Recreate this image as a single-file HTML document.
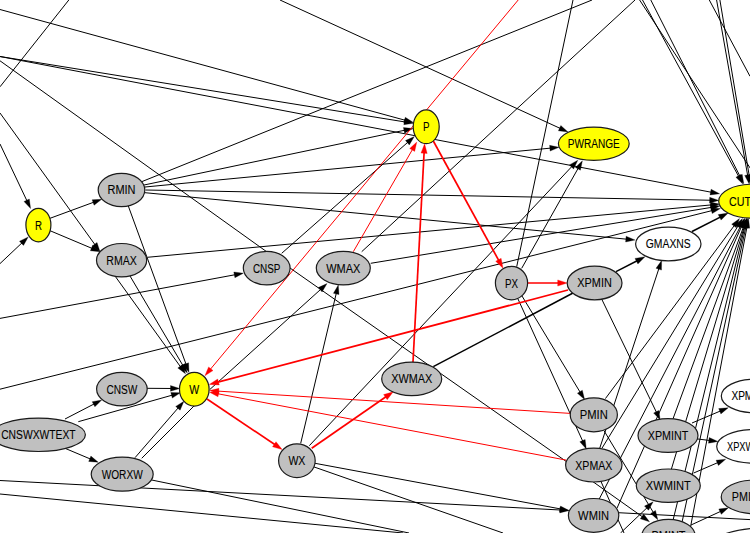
<!DOCTYPE html>
<html><head><meta charset="utf-8"><title>Graph</title>
<style>html,body{margin:0;padding:0;background:#fff;overflow:hidden}svg{display:block}text{font-family:"Liberation Sans",sans-serif;font-size:12.5px;fill:#000;stroke:#000;stroke-width:0.1px}</style></head><body>
<svg width="750" height="533" viewBox="0 0 750 533">
<rect width="750" height="533" fill="#fff"/>
<g stroke-linecap="butt">
<line x1="68.8" y1="0.0" x2="0.0" y2="86.8" stroke="#000000" stroke-width="1.0"/>
<line x1="0.0" y1="9.5" x2="408.6" y2="121.2" stroke="#000000" stroke-width="1.0"/>
<polygon points="413.4,122.5 403.8,122.9 405.3,117.3" fill="#000000" stroke="#000000" stroke-width="0.3"/>
<line x1="0.0" y1="56.5" x2="408.4" y2="122.5" stroke="#000000" stroke-width="1.0"/>
<polygon points="413.3,123.3 403.8,124.7 404.7,119.0" fill="#000000" stroke="#000000" stroke-width="0.3"/>
<line x1="0.0" y1="56.5" x2="714.7" y2="192.9" stroke="#000000" stroke-width="1.0"/>
<polygon points="719.6,193.8 710.0,194.9 711.1,189.2" fill="#000000" stroke="#000000" stroke-width="0.3"/>
<line x1="0.0" y1="60.8" x2="266.5" y2="251.6" stroke="#000000" stroke-width="1.0"/>
<line x1="0.0" y1="113.0" x2="97.1" y2="247.6" stroke="#000000" stroke-width="1.0"/>
<polygon points="100.0,251.7 92.3,245.9 97.0,242.5" fill="#000000" stroke="#000000" stroke-width="0.3"/>
<line x1="0.0" y1="144.0" x2="28.5" y2="204.1" stroke="#000000" stroke-width="1.0"/>
<polygon points="30.6,208.6 24.0,201.5 29.3,199.0" fill="#000000" stroke="#000000" stroke-width="0.3"/>
<line x1="0.0" y1="263.6" x2="24.6" y2="240.4" stroke="#000000" stroke-width="1.0"/>
<polygon points="28.2,237.0 23.5,245.4 19.5,241.2" fill="#000000" stroke="#000000" stroke-width="0.3"/>
<line x1="50.0" y1="218.3" x2="97.0" y2="201.0" stroke="#000000" stroke-width="1.0"/>
<polygon points="101.7,199.3 94.1,205.2 92.1,199.8" fill="#000000" stroke="#000000" stroke-width="0.3"/>
<line x1="50.0" y1="230.7" x2="95.4" y2="249.8" stroke="#000000" stroke-width="1.0"/>
<polygon points="100.0,251.7 90.4,250.8 92.6,245.5" fill="#000000" stroke="#000000" stroke-width="0.3"/>
<line x1="141.7" y1="181.7" x2="592.0" y2="0.0" stroke="#000000" stroke-width="1.0"/>
<line x1="144.0" y1="185.0" x2="408.1" y2="129.5" stroke="#000000" stroke-width="1.0"/>
<polygon points="413.0,128.5 404.6,133.2 403.4,127.6" fill="#000000" stroke="#000000" stroke-width="0.3"/>
<line x1="145.0" y1="187.0" x2="554.0" y2="147.8" stroke="#000000" stroke-width="1.0"/>
<polygon points="559.0,147.3 550.1,151.1 549.6,145.3" fill="#000000" stroke="#000000" stroke-width="0.3"/>
<line x1="145.5" y1="190.0" x2="713.8" y2="200.3" stroke="#000000" stroke-width="1.0"/>
<polygon points="718.8,200.4 709.5,203.1 709.7,197.3" fill="#000000" stroke="#000000" stroke-width="0.3"/>
<line x1="145.0" y1="192.7" x2="630.0" y2="239.5" stroke="#000000" stroke-width="1.0"/>
<polygon points="635.0,240.0 625.6,242.0 626.1,236.2" fill="#000000" stroke="#000000" stroke-width="0.3"/>
<line x1="128.3" y1="206.0" x2="187.3" y2="367.7" stroke="#000000" stroke-width="1.0"/>
<polygon points="189.0,372.4 183.1,364.8 188.6,362.8" fill="#000000" stroke="#000000" stroke-width="0.3"/>
<line x1="147.3" y1="257.3" x2="714.6" y2="204.6" stroke="#000000" stroke-width="1.0"/>
<polygon points="719.6,204.1 710.7,207.8 710.2,202.1" fill="#000000" stroke="#000000" stroke-width="0.3"/>
<line x1="115.0" y1="276.0" x2="182.6" y2="369.7" stroke="#000000" stroke-width="1.0"/>
<polygon points="185.5,373.8 177.8,368.0 182.5,364.6" fill="#000000" stroke="#000000" stroke-width="0.3"/>
<line x1="130.0" y1="276.0" x2="184.8" y2="368.7" stroke="#000000" stroke-width="1.0"/>
<polygon points="187.3,373.0 180.1,366.6 185.1,363.6" fill="#000000" stroke="#000000" stroke-width="0.3"/>
<line x1="0.0" y1="318.4" x2="238.5" y2="274.1" stroke="#000000" stroke-width="1.0"/>
<polygon points="243.4,273.2 234.9,277.7 233.8,272.0" fill="#000000" stroke="#000000" stroke-width="0.3"/>
<line x1="281.7" y1="253.3" x2="410.5" y2="139.9" stroke="#000000" stroke-width="1.0"/>
<polygon points="414.3,136.6 409.3,144.9 405.5,140.5" fill="#000000" stroke="#000000" stroke-width="0.3"/>
<line x1="361.7" y1="251.7" x2="635.0" y2="0.0" stroke="#000000" stroke-width="1.0"/>
<line x1="370.7" y1="263.3" x2="714.9" y2="206.8" stroke="#000000" stroke-width="1.0"/>
<polygon points="719.8,206.0 711.2,210.4 710.3,204.6" fill="#000000" stroke="#000000" stroke-width="0.3"/>
<line x1="0.0" y1="389.2" x2="715.6" y2="209.7" stroke="#000000" stroke-width="1.0"/>
<polygon points="720.4,208.5 712.2,213.6 710.8,207.9" fill="#000000" stroke="#000000" stroke-width="0.3"/>
<line x1="290.0" y1="268.0" x2="567.0" y2="462.0" stroke="#000000" stroke-width="1.0"/>
<line x1="141.7" y1="458.3" x2="195.0" y2="405.0" stroke="#000000" stroke-width="1.0"/>
<line x1="209.8" y1="389.5" x2="323.3" y2="287.0" stroke="#000000" stroke-width="1.0"/>
<polygon points="327.0,283.6 322.1,291.9 318.2,287.6" fill="#000000" stroke="#000000" stroke-width="0.3"/>
<line x1="300.7" y1="443.3" x2="337.1" y2="289.9" stroke="#000000" stroke-width="1.0"/>
<polygon points="338.3,285.0 339.0,294.6 333.4,293.3" fill="#000000" stroke="#000000" stroke-width="0.3"/>
<line x1="309.3" y1="445.7" x2="574.4" y2="163.8" stroke="#000000" stroke-width="1.0"/>
<polygon points="577.8,160.2 573.6,168.9 569.4,164.9" fill="#000000" stroke="#000000" stroke-width="0.3"/>
<line x1="521.7" y1="268.3" x2="579.9" y2="165.2" stroke="#000000" stroke-width="1.0"/>
<polygon points="582.4,160.8 580.4,170.2 575.4,167.4" fill="#000000" stroke="#000000" stroke-width="0.3"/>
<line x1="516.7" y1="266.7" x2="573.0" y2="0.0" stroke="#000000" stroke-width="1.0"/>
<line x1="522.0" y1="296.0" x2="582.0" y2="395.3" stroke="#000000" stroke-width="1.0"/>
<polygon points="584.6,399.6 577.4,393.2 582.3,390.2" fill="#000000" stroke="#000000" stroke-width="0.3"/>
<line x1="518.0" y1="299.0" x2="584.2" y2="444.4" stroke="#000000" stroke-width="1.0"/>
<polygon points="586.3,449.0 579.8,441.8 585.1,439.4" fill="#000000" stroke="#000000" stroke-width="0.3"/>
<line x1="601.5" y1="298.7" x2="658.0" y2="415.5" stroke="#000000" stroke-width="1.0"/>
<polygon points="660.2,420.0 653.6,413.0 658.8,410.5" fill="#000000" stroke="#000000" stroke-width="0.3"/>
<line x1="616.0" y1="271.7" x2="640.6" y2="259.0" stroke="#000000" stroke-width="1.5"/>
<polygon points="645.0,256.7 637.9,263.9 635.0,258.4" fill="#000000" stroke="#000000" stroke-width="0.3"/>
<line x1="433.3" y1="366.7" x2="573.0" y2="293.0" stroke="#000000" stroke-width="1.5"/>
<line x1="599.8" y1="448.0" x2="660.0" y2="265.2" stroke="#000000" stroke-width="1.0"/>
<polygon points="661.6,260.5 661.5,270.1 656.0,268.3" fill="#000000" stroke="#000000" stroke-width="0.3"/>
<line x1="605.4" y1="398.6" x2="736.5" y2="222.6" stroke="#000000" stroke-width="1.0"/>
<polygon points="739.5,218.6 736.3,227.7 731.7,224.2" fill="#000000" stroke="#000000" stroke-width="0.3"/>
<line x1="602.1" y1="448.0" x2="739.9" y2="222.9" stroke="#000000" stroke-width="1.0"/>
<polygon points="742.5,218.6 740.2,228.0 735.2,224.9" fill="#000000" stroke="#000000" stroke-width="0.3"/>
<line x1="598.7" y1="500.0" x2="742.2" y2="223.0" stroke="#000000" stroke-width="1.0"/>
<polygon points="744.5,218.6 742.8,228.1 737.7,225.4" fill="#000000" stroke="#000000" stroke-width="0.3"/>
<line x1="616.9" y1="508.4" x2="743.0" y2="223.2" stroke="#000000" stroke-width="1.0"/>
<polygon points="745.0,218.6 743.9,228.2 738.6,225.8" fill="#000000" stroke="#000000" stroke-width="0.3"/>
<line x1="666.7" y1="436.0" x2="744.8" y2="223.3" stroke="#000000" stroke-width="1.0"/>
<polygon points="746.5,218.6 746.1,228.2 740.6,226.2" fill="#000000" stroke="#000000" stroke-width="0.3"/>
<line x1="666.3" y1="486.0" x2="745.3" y2="223.4" stroke="#000000" stroke-width="1.0"/>
<polygon points="746.8,218.6 746.9,228.2 741.3,226.6" fill="#000000" stroke="#000000" stroke-width="0.3"/>
<line x1="669.9" y1="533.0" x2="745.7" y2="223.5" stroke="#000000" stroke-width="1.0"/>
<polygon points="746.9,218.6 747.5,228.2 741.9,226.8" fill="#000000" stroke="#000000" stroke-width="0.3"/>
<line x1="679.7" y1="533.0" x2="746.6" y2="223.5" stroke="#000000" stroke-width="1.0"/>
<polygon points="747.6,218.6 748.5,228.2 742.9,227.0" fill="#000000" stroke="#000000" stroke-width="0.3"/>
<line x1="689.4" y1="533.0" x2="747.6" y2="223.5" stroke="#000000" stroke-width="1.0"/>
<polygon points="748.5,218.6 749.7,228.2 744.0,227.1" fill="#000000" stroke="#000000" stroke-width="0.3"/>
<line x1="280.0" y1="0.0" x2="563.5" y2="129.9" stroke="#000000" stroke-width="1.0"/>
<polygon points="568.0,132.0 558.4,130.8 560.8,125.5" fill="#000000" stroke="#000000" stroke-width="0.3"/>
<line x1="642.5" y1="0.0" x2="740.4" y2="179.6" stroke="#000000" stroke-width="1.0"/>
<polygon points="742.8,184.0 735.9,177.3 740.9,174.5" fill="#000000" stroke="#000000" stroke-width="0.3"/>
<line x1="650.8" y1="0.0" x2="741.5" y2="179.3" stroke="#000000" stroke-width="1.0"/>
<polygon points="743.8,183.8 737.1,176.9 742.2,174.3" fill="#000000" stroke="#000000" stroke-width="0.3"/>
<line x1="639.6" y1="0.0" x2="751.0" y2="169.3" stroke="#000000" stroke-width="1.0"/>
<line x1="709.3" y1="0.0" x2="750.0" y2="76.3" stroke="#000000" stroke-width="1.0"/>
<line x1="716.6" y1="0.0" x2="748.3" y2="179.1" stroke="#000000" stroke-width="1.0"/>
<polygon points="749.2,184.0 744.7,175.4 750.5,174.4" fill="#000000" stroke="#000000" stroke-width="0.3"/>
<line x1="719.9" y1="0.0" x2="749.8" y2="179.1" stroke="#000000" stroke-width="1.0"/>
<polygon points="750.6,184.0 746.2,175.4 751.9,174.4" fill="#000000" stroke="#000000" stroke-width="0.3"/>
<line x1="692.0" y1="231.5" x2="723.7" y2="215.3" stroke="#000000" stroke-width="1.5"/>
<polygon points="728.2,213.0 721.1,220.1 718.2,214.6" fill="#000000" stroke="#000000" stroke-width="0.3"/>
<line x1="692.0" y1="423.0" x2="723.7" y2="409.6" stroke="#000000" stroke-width="1.0"/>
<polygon points="728.3,407.7 720.9,413.9 718.7,408.6" fill="#000000" stroke="#000000" stroke-width="0.3"/>
<line x1="697.0" y1="438.9" x2="713.0" y2="440.9" stroke="#000000" stroke-width="1.0"/>
<polygon points="718.0,441.5 708.5,443.2 709.2,437.5" fill="#000000" stroke="#000000" stroke-width="0.3"/>
<line x1="693.7" y1="473.0" x2="721.1" y2="461.2" stroke="#000000" stroke-width="1.0"/>
<polygon points="725.7,459.2 718.4,465.5 716.1,460.2" fill="#000000" stroke="#000000" stroke-width="0.3"/>
<line x1="691.0" y1="525.0" x2="723.9" y2="509.9" stroke="#000000" stroke-width="1.0"/>
<polygon points="728.4,507.8 721.3,514.3 718.8,509.0" fill="#000000" stroke="#000000" stroke-width="0.3"/>
<line x1="618.3" y1="512.7" x2="750.0" y2="519.6" stroke="#000000" stroke-width="1.0"/>
<line x1="586.0" y1="448.0" x2="624.0" y2="533.0" stroke="#000000" stroke-width="1.0"/>
<line x1="604.0" y1="430.7" x2="655.2" y2="515.5" stroke="#000000" stroke-width="1.0"/>
<polygon points="657.8,519.8 650.6,513.4 655.5,510.4" fill="#000000" stroke="#000000" stroke-width="0.3"/>
<line x1="592.8" y1="481.6" x2="645.4" y2="518.9" stroke="#000000" stroke-width="1.0"/>
<polygon points="649.5,521.8 640.3,518.8 643.7,514.1" fill="#000000" stroke="#000000" stroke-width="0.3"/>
<line x1="620.5" y1="533.0" x2="649.6" y2="505.3" stroke="#000000" stroke-width="1.0"/>
<polygon points="653.2,501.8 648.5,510.2 644.5,506.1" fill="#000000" stroke="#000000" stroke-width="0.3"/>
<line x1="65.0" y1="419.0" x2="97.3" y2="402.3" stroke="#000000" stroke-width="1.0"/>
<polygon points="101.7,400.0 94.9,406.8 92.2,401.7" fill="#000000" stroke="#000000" stroke-width="0.3"/>
<line x1="78.3" y1="421.7" x2="175.6" y2="394.2" stroke="#000000" stroke-width="1.0"/>
<polygon points="180.4,392.8 172.3,398.1 170.8,392.5" fill="#000000" stroke="#000000" stroke-width="0.3"/>
<line x1="65.0" y1="448.3" x2="93.7" y2="460.4" stroke="#000000" stroke-width="1.0"/>
<polygon points="98.3,462.3 88.7,461.4 90.9,456.1" fill="#000000" stroke="#000000" stroke-width="0.3"/>
<line x1="146.7" y1="388.3" x2="174.7" y2="388.5" stroke="#000000" stroke-width="1.0"/>
<polygon points="179.7,388.5 170.5,391.3 170.5,385.5" fill="#000000" stroke="#000000" stroke-width="0.3"/>
<line x1="135.0" y1="457.7" x2="180.6" y2="405.1" stroke="#000000" stroke-width="1.0"/>
<polygon points="183.9,401.3 180.1,410.2 175.7,406.4" fill="#000000" stroke="#000000" stroke-width="0.3"/>
<line x1="151.7" y1="480.0" x2="409.0" y2="533.0" stroke="#000000" stroke-width="1.0"/>
<line x1="0.0" y1="480.5" x2="564.0" y2="510.2" stroke="#000000" stroke-width="1.0"/>
<polygon points="569.0,510.5 559.7,512.9 560.0,507.1" fill="#000000" stroke="#000000" stroke-width="0.3"/>
<line x1="0.0" y1="494.0" x2="403.0" y2="533.0" stroke="#000000" stroke-width="1.0"/>
<line x1="315.0" y1="463.3" x2="564.1" y2="509.6" stroke="#000000" stroke-width="1.0"/>
<polygon points="569.0,510.5 559.4,511.7 560.5,506.0" fill="#000000" stroke="#000000" stroke-width="0.3"/>
<line x1="313.3" y1="466.7" x2="503.0" y2="533.0" stroke="#000000" stroke-width="1.0"/>
<line x1="518.2" y1="0.0" x2="208.1" y2="372.0" stroke="#ff0000" stroke-width="1.0"/>
<polygon points="204.9,375.8 208.6,366.9 213.0,370.6" fill="#ff0000" stroke="#ff0000" stroke-width="0.3"/>
<line x1="353.3" y1="251.7" x2="414.3" y2="146.3" stroke="#ff0000" stroke-width="1.0"/>
<polygon points="416.8,142.0 414.7,151.4 409.7,148.5" fill="#ff0000" stroke="#ff0000" stroke-width="0.3"/>
<line x1="413.0" y1="362.0" x2="424.3" y2="148.7" stroke="#ff0000" stroke-width="1.7"/>
<polygon points="424.6,143.7 427.2,153.5 421.0,153.1" fill="#ff0000" stroke="#ff0000" stroke-width="0.3"/>
<line x1="433.3" y1="141.0" x2="500.6" y2="263.8" stroke="#ff0000" stroke-width="1.7"/>
<polygon points="503.0,268.2 495.7,261.3 501.1,258.3" fill="#ff0000" stroke="#ff0000" stroke-width="0.3"/>
<line x1="527.6" y1="283.0" x2="562.3" y2="283.0" stroke="#ff0000" stroke-width="1.7"/>
<polygon points="567.3,283.0 557.7,286.1 557.7,279.9" fill="#ff0000" stroke="#ff0000" stroke-width="0.3"/>
<line x1="568.0" y1="290.0" x2="214.0" y2="383.1" stroke="#ff0000" stroke-width="1.7"/>
<polygon points="209.2,384.4 217.7,379.0 219.3,385.0" fill="#ff0000" stroke="#ff0000" stroke-width="0.3"/>
<line x1="207.0" y1="399.0" x2="278.1" y2="446.8" stroke="#ff0000" stroke-width="1.7"/>
<polygon points="282.2,449.6 272.5,446.8 276.0,441.7" fill="#ff0000" stroke="#ff0000" stroke-width="0.3"/>
<line x1="311.7" y1="448.3" x2="389.2" y2="394.5" stroke="#ff0000" stroke-width="1.7"/>
<polygon points="393.3,391.7 387.2,399.7 383.6,394.6" fill="#ff0000" stroke="#ff0000" stroke-width="0.3"/>
<line x1="570.3" y1="413.4" x2="214.6" y2="390.9" stroke="#ff0000" stroke-width="1.0"/>
<polygon points="209.6,390.6 219.0,388.3 218.6,394.1" fill="#ff0000" stroke="#ff0000" stroke-width="0.3"/>
<line x1="566.6" y1="460.2" x2="214.4" y2="393.1" stroke="#ff0000" stroke-width="1.0"/>
<polygon points="209.5,392.2 219.1,391.1 218.0,396.8" fill="#ff0000" stroke="#ff0000" stroke-width="0.3"/>
</g>
<ellipse cx="38.4" cy="225.1" rx="12.5" ry="16.8" fill="#ffff00" stroke="#1a1a1a" stroke-width="1.2"/>
<text x="38.4" y="229.5" text-anchor="middle" textLength="7" lengthAdjust="spacingAndGlyphs">R</text>
<ellipse cx="121.5" cy="190.0" rx="23.3" ry="16.7" fill="#c0c0c0" stroke="#1a1a1a" stroke-width="1.2"/>
<text x="121.5" y="194.4" text-anchor="middle" textLength="28" lengthAdjust="spacingAndGlyphs">RMIN</text>
<ellipse cx="121.6" cy="260.2" rx="25.1" ry="16.7" fill="#c0c0c0" stroke="#1a1a1a" stroke-width="1.2"/>
<text x="121.6" y="264.6" text-anchor="middle" textLength="30.5" lengthAdjust="spacingAndGlyphs">RMAX</text>
<ellipse cx="266.7" cy="268.1" rx="23.4" ry="16.8" fill="#c0c0c0" stroke="#1a1a1a" stroke-width="1.2"/>
<text x="266.7" y="272.5" text-anchor="middle" textLength="27.5" lengthAdjust="spacingAndGlyphs">CNSP</text>
<ellipse cx="343.3" cy="268.1" rx="27.0" ry="16.8" fill="#c0c0c0" stroke="#1a1a1a" stroke-width="1.2"/>
<text x="343.3" y="272.5" text-anchor="middle" textLength="34" lengthAdjust="spacingAndGlyphs">WMAX</text>
<ellipse cx="426.2" cy="126.8" rx="13.0" ry="16.9" fill="#ffff00" stroke="#1a1a1a" stroke-width="1.2"/>
<text x="426.2" y="131.2" text-anchor="middle" textLength="6.5" lengthAdjust="spacingAndGlyphs">P</text>
<ellipse cx="593.8" cy="143.8" rx="35.4" ry="16.6" fill="#ffff00" stroke="#1a1a1a" stroke-width="1.2"/>
<text x="593.8" y="148.2" text-anchor="middle" textLength="52" lengthAdjust="spacingAndGlyphs">PWRANGE</text>
<ellipse cx="752.0" cy="201.2" rx="33.3" ry="17.0" fill="#ffff00" stroke="#1a1a1a" stroke-width="1.2"/>
<text x="729" y="205.6" textLength="22" lengthAdjust="spacingAndGlyphs">CUT</text>
<ellipse cx="668.3" cy="244.0" rx="32.7" ry="16.8" fill="#ffffff" stroke="#1a1a1a" stroke-width="1.2"/>
<text x="668.3" y="248.4" text-anchor="middle" textLength="45" lengthAdjust="spacingAndGlyphs">GMAXNS</text>
<ellipse cx="511.5" cy="283.1" rx="16.1" ry="16.7" fill="#c0c0c0" stroke="#1a1a1a" stroke-width="1.2"/>
<text x="511.5" y="287.5" text-anchor="middle" textLength="13" lengthAdjust="spacingAndGlyphs">PX</text>
<ellipse cx="594.6" cy="283.0" rx="27.4" ry="16.8" fill="#c0c0c0" stroke="#1a1a1a" stroke-width="1.2"/>
<text x="594.6" y="287.4" text-anchor="middle" textLength="34.5" lengthAdjust="spacingAndGlyphs">XPMIN</text>
<ellipse cx="194.3" cy="389.2" rx="14.8" ry="16.9" fill="#ffff00" stroke="#1a1a1a" stroke-width="1.2"/>
<text x="194.3" y="393.6" text-anchor="middle" textLength="10" lengthAdjust="spacingAndGlyphs">W</text>
<ellipse cx="121.9" cy="389.1" rx="25.3" ry="16.8" fill="#c0c0c0" stroke="#1a1a1a" stroke-width="1.2"/>
<text x="121.9" y="393.5" text-anchor="middle" textLength="31" lengthAdjust="spacingAndGlyphs">CNSW</text>
<ellipse cx="38.4" cy="434.8" rx="47.0" ry="16.7" fill="#c0c0c0" stroke="#1a1a1a" stroke-width="1.2"/>
<text x="38.4" y="439.2" text-anchor="middle" textLength="74.5" lengthAdjust="spacingAndGlyphs">CNSWXWTEXT</text>
<ellipse cx="122.2" cy="474.2" rx="31.0" ry="17.0" fill="#c0c0c0" stroke="#1a1a1a" stroke-width="1.2"/>
<text x="122.2" y="478.6" text-anchor="middle" textLength="41" lengthAdjust="spacingAndGlyphs">WORXW</text>
<ellipse cx="296.9" cy="460.7" rx="18.3" ry="16.9" fill="#c0c0c0" stroke="#1a1a1a" stroke-width="1.2"/>
<text x="296.9" y="465.1" text-anchor="middle" textLength="17" lengthAdjust="spacingAndGlyphs">WX</text>
<ellipse cx="411.7" cy="378.9" rx="30.0" ry="16.7" fill="#c0c0c0" stroke="#1a1a1a" stroke-width="1.2"/>
<text x="411.7" y="383.3" text-anchor="middle" textLength="41" lengthAdjust="spacingAndGlyphs">XWMAX</text>
<ellipse cx="593.8" cy="414.8" rx="23.6" ry="17.0" fill="#c0c0c0" stroke="#1a1a1a" stroke-width="1.2"/>
<text x="593.8" y="419.2" text-anchor="middle" textLength="28" lengthAdjust="spacingAndGlyphs">PMIN</text>
<ellipse cx="593.8" cy="465.1" rx="28.2" ry="16.9" fill="#c0c0c0" stroke="#1a1a1a" stroke-width="1.2"/>
<text x="593.8" y="469.5" text-anchor="middle" textLength="37" lengthAdjust="spacingAndGlyphs">XPMAX</text>
<ellipse cx="593.6" cy="515.4" rx="25.2" ry="16.9" fill="#c0c0c0" stroke="#1a1a1a" stroke-width="1.2"/>
<text x="593.6" y="519.8" text-anchor="middle" textLength="31" lengthAdjust="spacingAndGlyphs">WMIN</text>
<ellipse cx="668.0" cy="435.5" rx="30.0" ry="16.9" fill="#c0c0c0" stroke="#1a1a1a" stroke-width="1.2"/>
<text x="668.0" y="439.9" text-anchor="middle" textLength="40.5" lengthAdjust="spacingAndGlyphs">XPMINT</text>
<ellipse cx="668.3" cy="485.7" rx="32.0" ry="16.7" fill="#c0c0c0" stroke="#1a1a1a" stroke-width="1.2"/>
<text x="668.3" y="490.1" text-anchor="middle" textLength="45" lengthAdjust="spacingAndGlyphs">XWMINT</text>
<ellipse cx="668.5" cy="536.0" rx="26.7" ry="16.7" fill="#c0c0c0" stroke="#1a1a1a" stroke-width="1.2"/>
<text x="668.5" y="540.4" text-anchor="middle" textLength="34" lengthAdjust="spacingAndGlyphs">PMINT</text>
<ellipse cx="755.0" cy="396.0" rx="33.7" ry="16.8" fill="#ffffff" stroke="#1a1a1a" stroke-width="1.2"/>
<text x="731.4" y="400.4" textLength="32" lengthAdjust="spacingAndGlyphs">XPMIN</text>
<ellipse cx="754.0" cy="446.4" rx="37.3" ry="16.8" fill="#ffffff" stroke="#1a1a1a" stroke-width="1.2"/>
<text x="727" y="450.8" textLength="35" lengthAdjust="spacingAndGlyphs">XPXWM</text>
<ellipse cx="755.0" cy="496.9" rx="33.8" ry="16.8" fill="#c0c0c0" stroke="#1a1a1a" stroke-width="1.2"/>
<text x="731.8" y="501.3" textLength="34" lengthAdjust="spacingAndGlyphs">PMINX</text>
<ellipse cx="763.0" cy="545.0" rx="50.0" ry="17.0" fill="#ffffff" stroke="#1a1a1a" stroke-width="1.2"/>
</svg></body></html>
